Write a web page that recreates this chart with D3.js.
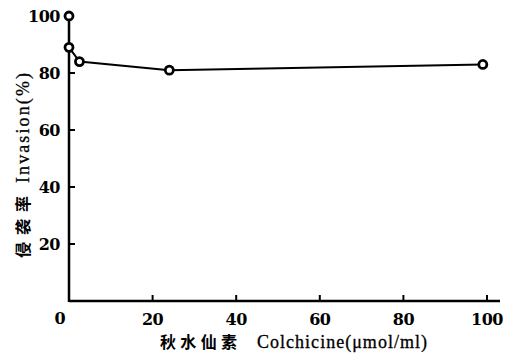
<!DOCTYPE html>
<html>
<head>
<meta charset="utf-8">
<script src="https://cdn.jsdelivr.net/npm/d3@7"></script>
<style>
  body { margin: 0; background: #fff; }
  svg { display: block; }
</style>
</head>
<body>
<div id="chart"></div>
<script>
// concentration (umol/ml) and invasion (%)
const conc = [0, 0, 2.5, 24, 99];
const invasion = [100, 89, 84, 81, 83];
const xTicks = [20, 40, 60, 80, 100];
const yTicks = [20, 40, 60, 80, 100];

const width = 511, height = 356;

const svg = d3.select("#chart").append("svg")
	.attr("width", width)
	.attr("height", height);

const x = d3.scaleLinear().domain([0, 100]).range([69, 487]);
const y = d3.scaleLinear().domain([0, 100]).range([301, 16]);

const tickFont = "'DejaVu Serif', serif";

// axes
svg.append("line")
	.attr("x1", x(0)).attr("x2", 500)
	.attr("y1", y(0)).attr("y2", y(0))
	.attr("stroke", "#000").attr("stroke-width", 2.5);
svg.append("line")
	.attr("x1", x(0)).attr("x2", x(0))
	.attr("y1", y(0) + 1).attr("y2", y(100))
	.attr("stroke", "#000").attr("stroke-width", 2.5);

// x ticks (inward)
svg.selectAll(".xt").data(xTicks).join("line")
	.attr("x1", d => x(d)).attr("x2", d => x(d))
	.attr("y1", y(0)).attr("y2", y(0) - 6)
	.attr("stroke", "#000").attr("stroke-width", 2);
svg.selectAll(".xl").data(xTicks).join("text")
	.attr("x", d => x(d))
	.attr("y", y(0) + 24)
	.attr("text-anchor", "middle")
	.style("font", "bold 16px " + tickFont)
	.style("letter-spacing", "-0.5px")
	.text(d => d);
svg.append("text")
	.attr("x", 60).attr("y", y(0) + 23)
	.attr("text-anchor", "middle")
	.style("font", "bold 16px " + tickFont)
	.text("0");

// y ticks (inward)
svg.selectAll(".yt").data(yTicks.filter(d => d < 100)).join("line")
	.attr("x1", x(0)).attr("x2", x(0) + 6)
	.attr("y1", d => y(d)).attr("y2", d => y(d))
	.attr("stroke", "#000").attr("stroke-width", 2);
svg.selectAll(".yl").data(yTicks).join("text")
	.attr("x", 60)
	.attr("y", d => y(d) + 6)
	.attr("text-anchor", "end")
	.style("font", "bold 16px " + tickFont)
	.style("letter-spacing", "-0.5px")
	.text(d => d);

// data line
const line = d3.line().x((d, i) => x(conc[i])).y(d => y(d));
svg.append("path")
	.datum(invasion)
	.attr("d", line)
	.attr("fill", "none")
	.attr("stroke", "#000")
	.attr("stroke-width", 2);

svg.selectAll(".pt").data(invasion).join("circle")
	.attr("cx", (d, i) => x(conc[i]))
	.attr("cy", d => y(d))
	.attr("r", 4)
	.attr("fill", "#fff")
	.attr("stroke", "#000")
	.attr("stroke-width", 2.8);

// axis titles
svg.append("text")
	.attr("x", 160).attr("y", 348)
	.attr("textLength", 77)
	.style("font", "bold 16px 'Noto Sans CJK SC', sans-serif")
	.text("秋水仙素");
svg.append("text")
	.attr("x", 257).attr("y", 348)
	.attr("textLength", 170)
	.style("font", "18px 'Liberation Serif', serif")
	.attr("stroke", "#000").attr("stroke-width", 0.3)
	.text("Colchicine(μmol/ml)");

svg.append("text")
	.attr("transform", "translate(29,258) rotate(-90)")
	.attr("textLength", 62)
	.style("font", "bold 16px 'Noto Sans CJK SC', sans-serif")
	.text("侵袭率");
svg.append("text")
	.attr("transform", "translate(29,183) rotate(-90)")
	.attr("textLength", 110)
	.style("font", "18px 'Liberation Serif', serif")
	.attr("stroke", "#000").attr("stroke-width", 0.3)
	.text("Invasion(%)");
</script>
</body>
</html>
